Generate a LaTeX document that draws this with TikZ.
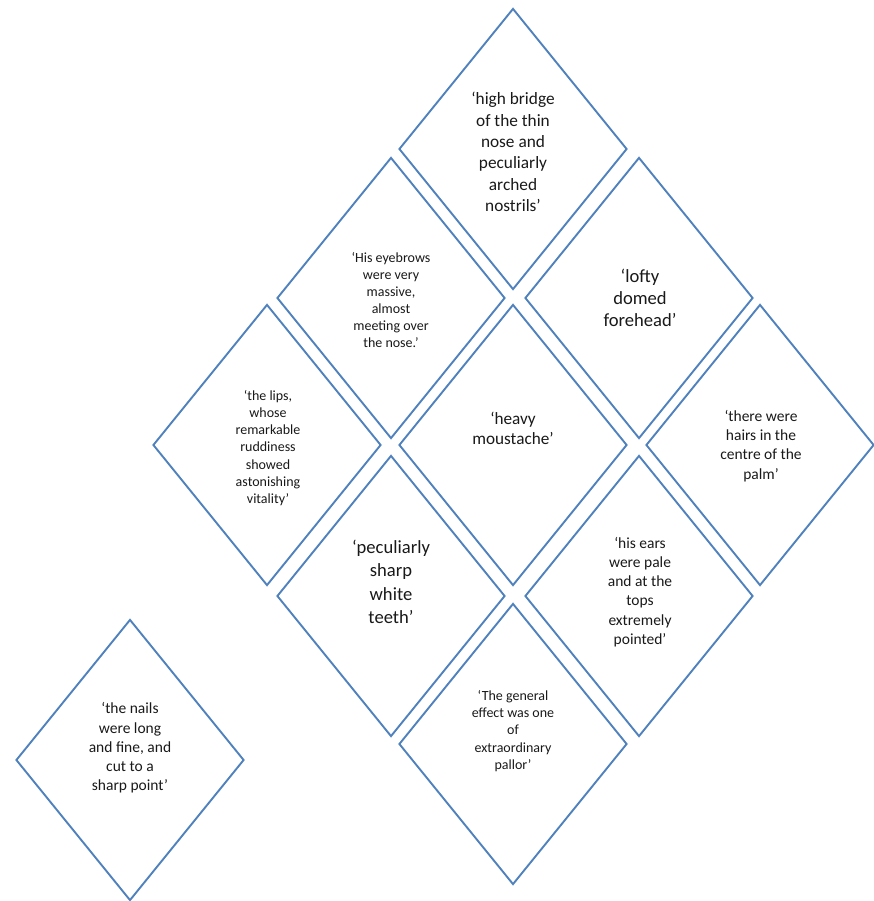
\documentclass[tikz,border=0pt]{standalone}
\usepackage{fontspec}
\setmainfont{Carlito}
\usetikzlibrary{shapes.geometric}
\definecolor{edgeblue}{RGB}{79,129,189}
\definecolor{inktext}{RGB}{25,25,25}
\tikzset{
  tile/.style={draw=edgeblue, line width=1.9pt, shape=diamond, inner sep=0pt,
    minimum width=228pt, minimum height=281pt, line join=miter},
  quote/.style={align=center, text=inktext, inner sep=0pt},
  fsmall/.style={font=\fontsize{14}{17.1}\selectfont},
  fmid/.style={font=\fontsize{15.5}{19.2}\selectfont},
  fbig/.style={font=\fontsize{17.3}{21.3}\selectfont},
  fhuge/.style={font=\fontsize{18.6}{23.3}\selectfont},
}
\begin{document}
\begin{tikzpicture}[x=1pt, y=-1pt]
\useasboundingbox (0,0) rectangle (874,901);

% diamond tiles
\node[tile] (nose)      at (513,149) {};
\node[tile] (brows)     at (391,298) {};
\node[tile] (forehead)  at (639,298) {};
\node[tile] (lips)      at (267,445) {};
\node[tile] (moustache) at (513,445) {};
\node[tile] (palm)      at (760,445) {};
\node[tile] (teeth)     at (391,596) {};
\node[tile] (ears)      at (639,596) {};
\node[tile] (pallor)    at (513,744) {};
\node[tile] (nails)     at (130,760) {};

% quotations
\node[quote, fbig] (tnose) at (513,152)
  {‘high bridge\\of the thin\\nose and\\peculiarly\\arched\\nostrils’};
\node[quote, fsmall] (tbrows) at (391,300)
  {‘His eyebrows\\were very\\massive,\\almost\\meeting over\\the nose.’};
\node[quote, font=\fontsize{18.6}{21.7}\selectfont] (tforehead) at (640,298)
  {‘lofty\\domed\\forehead’};
\node[quote, fsmall] (tlips) at (268,448)
  {‘the lips,\\whose\\remarkable\\ruddiness\\showed\\astonishing\\vitality’};
\node[quote, font=\fontsize{17.2}{20}\selectfont] (tmoustache) at (513,428)
  {‘heavy\\moustache’};
\node[quote, fmid] (tpalm) at (761,446)
  {‘there were\\hairs in the\\centre of the\\palm’};
\node[quote, fhuge] (tteeth) at (391,582)
  {‘peculiarly\\sharp\\white\\teeth’};
\node[quote, fmid] (tears) at (640,592)
  {‘his ears\\were pale\\and at the\\tops\\extremely\\pointed’};
\node[quote, fsmall] (tpallor) at (513,731)
  {‘The general\\effect was one\\of\\extraordinary\\pallor’};
\node[quote, fmid] (tnails) at (130,748)
  {‘the nails\\were long\\and fine, and\\cut to a\\sharp point’};
\end{tikzpicture}
\end{document}
